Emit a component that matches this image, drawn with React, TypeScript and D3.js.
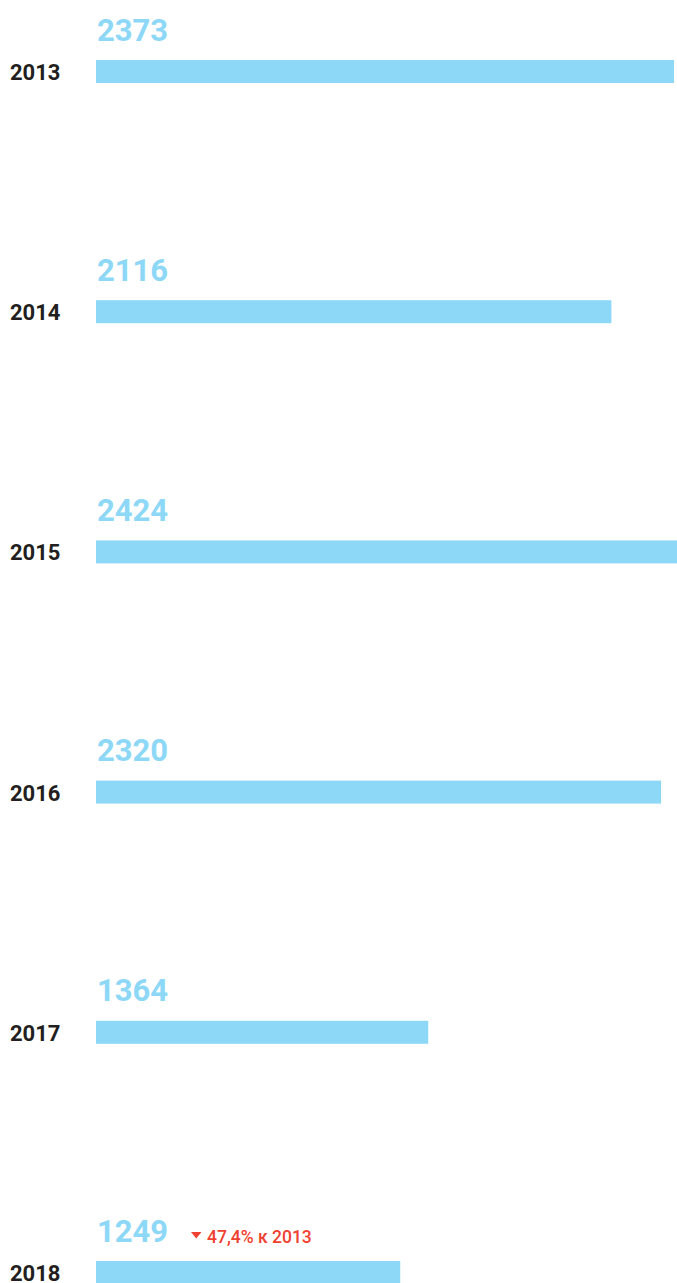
import React from "react";
import * as d3 from "d3";

const years: string[] = ["2013", "2014", "2015", "2016", "2017", "2018"];
const values: number[] = [2373, 2116, 2424, 2320, 1364, 1249];
const annotationText = "47,4% к 2013";
const annotationYear = "2018";

const W = 677;
const H = 1283;

export default function App() {
  const x = d3.scaleLinear().domain([0, 2373]).range([96, 674]);
  const y = d3.scalePoint<string>().domain(years).range([60, 1261]);
  const barH = 23;
  const font = "Roboto, 'DejaVu Sans', sans-serif";
  return (
    <svg
      width={W}
      height={H}
      style={{ position: "absolute", left: 0, top: 0, overflow: "hidden", background: "#fff" }}
    >
      {years.map((yr, i) => {
        const top = y(yr) as number;
        return (
          <g key={yr}>
            <rect x={x(0)} y={top} width={x(values[i]) - x(0)} height={barH} fill="#8dd7f7" />
            <text
              x={10}
              y={top + 20}
              fontFamily={font}
              fontWeight={700}
              fontSize={22}
              fill="#231f20"
            >
              {yr}
            </text>
            <text
              x={97}
              y={top - 19.5}
              fontFamily={font}
              fontWeight={700}
              fontSize={31}
              fill="#8dd7f7"
            >
              {values[i]}
            </text>
            {yr === annotationYear && (
              <g>
                <path
                  d={`M${191},${top - 29} L${201.5},${top - 29} L${196.25},${top - 22.5} Z`}
                  fill="#ef4130"
                />
                <text
                  x={207}
                  y={top - 18.5}
                  fontFamily={font}
                  fontWeight={500}
                  fontSize={17.5}
                  fill="#ef4130"
                >
                  {annotationText}
                </text>
              </g>
            )}
          </g>
        );
      })}
    </svg>
  );
}
